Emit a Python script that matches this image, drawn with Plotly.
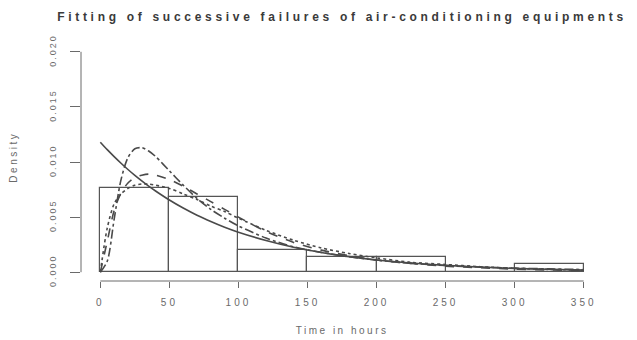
import plotly.graph_objects as go

# Histogram of times between successive failures (density scale)
bin_edges = [0, 50, 100, 150, 200, 250, 300, 350]
bin_density = [0.0076, 0.0068, 0.0020, 0.0014, 0.0014, 0.0, 0.0007]

# Fitted densities evaluated on a grid of times (hours)
t_grid = [0, 5, 10, 15, 20, 25, 30, 35, 40, 50, 60, 70, 80, 90, 100,
          120, 140, 160, 180, 200, 225, 250, 275, 300, 325, 350]
dens_exp = [0.01180, 0.01112, 0.01049, 0.00989, 0.00932, 0.00879, 0.00829,
            0.00781, 0.00737, 0.00655, 0.00582, 0.00517, 0.00460, 0.00408,
            0.00363, 0.00287, 0.00226, 0.00179, 0.00141, 0.00111, 0.00083,
            0.00062, 0.00046, 0.00034, 0.00026, 0.00019]
dens_lnorm = [0.0, 0.0010, 0.0048, 0.0084, 0.0104, 0.0112, 0.0113, 0.0110,
              0.0105, 0.0092, 0.0079, 0.0067, 0.0057, 0.0049, 0.0042, 0.0031,
              0.0023, 0.0018, 0.0014, 0.0011, 0.0008, 0.0006, 0.00047,
              0.00037, 0.0003, 0.00024]
dens_gamma = [0.0, 0.0028, 0.0056, 0.0072, 0.0081, 0.0086, 0.0088, 0.0089,
              0.0088, 0.0084, 0.0078, 0.0071, 0.0064, 0.0057, 0.0050, 0.0037,
              0.0027, 0.0020, 0.0015, 0.0011, 0.0008, 0.00055, 0.0004,
              0.00028, 0.0002, 0.00014]
dens_weib = [0.0, 0.0040, 0.0062, 0.0071, 0.0076, 0.0079, 0.0080, 0.0080,
             0.0079, 0.0076, 0.0071, 0.0066, 0.0060, 0.0055, 0.0049, 0.0038,
             0.0029, 0.0022, 0.0017, 0.0013, 0.0009, 0.0007, 0.0005,
             0.00035, 0.00025, 0.00018]

x_ticks = [0, 50, 100, 150, 200, 250, 300, 350]
y_ticks = [0.0, 0.005, 0.010, 0.015, 0.020]
y_tick_text = ["0.000", "0.005", "0.010", "0.015", "0.020"]

title_text = "Fitting of successive failures of air-conditioning equipments"
x_label = "Time in hours"
y_label = "Density"

INK = "#3a3a3a"
GREY = "#6a6a6a"
FONT = "Liberation Sans, Arial, sans-serif"

centers = [(a + b) / 2 for a, b in zip(bin_edges[:-1], bin_edges[1:])]
widths = [b - a for a, b in zip(bin_edges[:-1], bin_edges[1:])]

fig = go.Figure()
fig.add_trace(go.Bar(
    x=centers, y=bin_density, width=widths,
    marker=dict(color="white", line=dict(color="#555555", width=1.2)),
    hoverinfo="skip", showlegend=False,
))

curves = [
    (dens_exp, "solid"),
    (dens_gamma, "dash"),
    (dens_weib, "dot"),
    (dens_lnorm, "dashdot"),
]
for ys, dash in curves:
    fig.add_trace(go.Scatter(
        x=t_grid, y=ys, mode="lines",
        line=dict(color="#4a4a4a", width=1.6, dash=dash, shape="spline",
                  smoothing=0.8),
        hoverinfo="skip", showlegend=False,
    ))

# Detached R-style axis lines spanning only the tick range
fig.add_shape(type="line", xref="x", yref="paper", x0=0, x1=350, y0=0, y1=0,
              line=dict(color=GREY, width=1))
fig.add_shape(type="line", xref="paper", yref="y", x0=0, x1=0, y0=0, y1=0.02,
              line=dict(color=GREY, width=1))

fig.update_xaxes(
    range=[-14, 364], tickvals=x_ticks, ticktext=[str(v) for v in x_ticks],
    ticks="outside", ticklen=6, tickcolor=GREY, ticklabelstandoff=6,
    showline=False, showgrid=False, zeroline=False,
    tickfont=dict(family=FONT, size=10, color=GREY),
)
fig.update_yaxes(
    range=[-0.0008, 0.0208], tickvals=y_ticks, ticktext=y_tick_text,
    ticks="outside", ticklen=10, tickcolor=GREY, tickangle=-90,
    ticklabelstandoff=10,
    showline=False, showgrid=False, zeroline=False,
    tickfont=dict(family=FONT, size=9, color=GREY),
)

fig.update_layout(
    width=637, height=340,
    margin=dict(l=81, r=34, t=43, b=59),
    paper_bgcolor="white", plot_bgcolor="white",
    bargap=0,
    annotations=[
        dict(text="<b>" + title_text + "</b>", xref="paper", yref="paper",
             x=0.5, y=1.11, showarrow=False, xanchor="center", yanchor="middle",
             font=dict(family=FONT, size=12, color=INK)),
        dict(text=x_label, xref="paper", yref="paper", x=0.5, y=-0.207,
             showarrow=False, xanchor="center", yanchor="middle",
             font=dict(family=FONT, size=10, color=GREY)),
        dict(text=y_label, xref="paper", yref="paper", x=-0.129, y=0.52,
             showarrow=False, textangle=-90, xanchor="center", yanchor="middle",
             font=dict(family=FONT, size=10, color=GREY)),
    ],
)

# Wide letter spacing on all labels
spacing_js = """
var gd = document.getElementById('{plot_id}');
function spread() {
  gd.querySelectorAll('.annotation-text').forEach(function (t, i) {
    t.style.letterSpacing = (i === 0) ? '3.7px' : '2.5px';
  });
  gd.querySelectorAll('.xtick text').forEach(function (t) {
    t.style.letterSpacing = '3px';
  });
  gd.querySelectorAll('.ytick text').forEach(function (t) {
    t.style.letterSpacing = '2px';
  });
}
spread();
gd.on('plotly_afterplot', spread);
"""

fig.write_html("out.html", config={"displayModeBar": False},
               post_script=spacing_js)
